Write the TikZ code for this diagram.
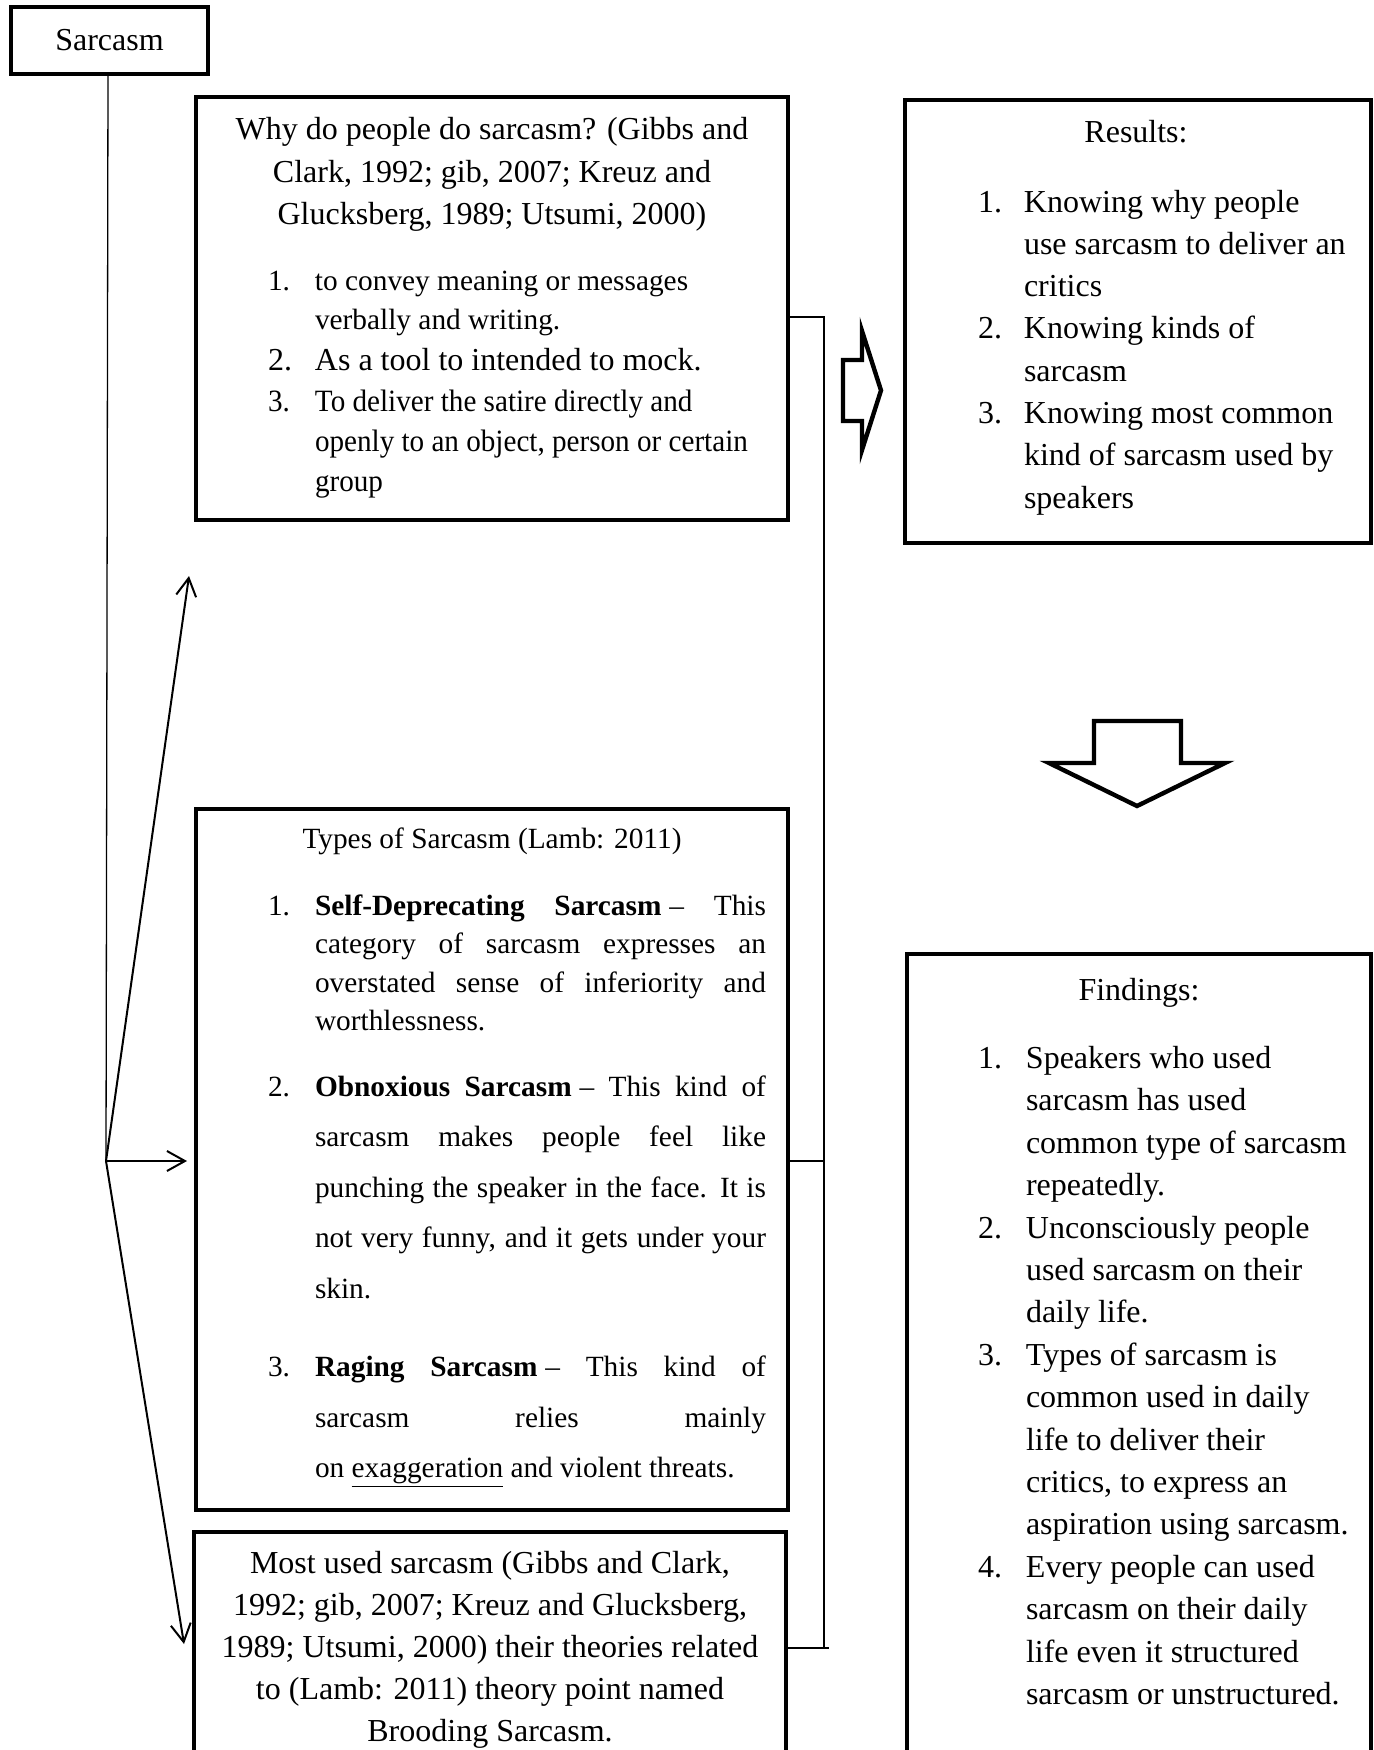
\documentclass[tikz,border=0pt]{standalone}
\usepackage{fontspec}
\setmainfont{Liberation Serif}
\newfontfamily\narrowserif[FakeStretch=0.94]{Liberation Serif}
\usetikzlibrary{arrows.meta}
\newcommand\fbig{\fontsize{16pt}{21pt}\selectfont}
\newcommand\fsml{\fontsize{14.67pt}{19pt}\selectfont}
\newcommand\fmid{\narrowserif\fontsize{15.5pt}{20pt}\selectfont}
\newcommand\txtlines[2]{\vtop{\baselineskip=#1\relax\lineskiplimit=-100pt\lineskip=0pt #2}}
\newcommand\Jline[2]{\hbox to #1{#2}}
\newcommand\Cline[2]{\hbox to #1{\hfil#2\hfil}}
\newcommand\Rline[1]{\hbox{#1}}
\newcommand\Lnum[2]{\llap{\hbox to #1{#2\hfil}}}
\newcommand\Dsh{\hspace{0.27em}–}
\begin{document}
\begin{tikzpicture}[x=0.5pt,y=-0.5pt,
  box/.style={draw, line width=2.3pt, inner sep=0pt, outer sep=0pt, anchor=north west},
  txt/.style={inner sep=0pt, outer sep=0pt},
  conn/.style={line width=0.7pt},
  fanarrow/.style={line width=1pt, ->},
  barrow/.style={draw, line width=2.2pt, line join=miter, fill=white},
  >={Straight Barb[length=9pt,width=10pt]}]
\clip (0,0) rectangle (1373,1750);
% boxes
\node[box, minimum width=98.5pt, minimum height=33.5pt] (sarc) at (11,7) {};
\node[txt, font=\fbig] (sarcT) at (sarc.center) {Sarcasm};
\node[box, minimum width=296pt, minimum height=211.5pt] (why) at (196,97) {};
\node[box, minimum width=233pt, minimum height=221.5pt] (res) at (905,100) {};
\node[box, minimum width=296pt, minimum height=350.5pt] (types) at (196,809) {};
\node[box, minimum width=296pt, minimum height=119pt] (most) at (194,1532) {};
\node[box, minimum width=232pt, minimum height=408pt] (find) at (907,954) {};
% why box text
\node[txt, font=\fbig, anchor=base] (whyT) at (492,139.5) {\txtlines{21.25pt}{%
 \Cline{290pt}{Why do people do sarcasm? (Gibbs and}%
 \Cline{290pt}{Clark, 1992; gib, 2007; Kreuz and}%
 \Cline{290pt}{Glucksberg, 1989; Utsumi, 2000)}}};
\node[txt, font=\fsml, anchor=base west] (why1) at (315,290) {\txtlines{19.5pt}{%
 \Rline{\Lnum{23.5pt}{1.}to convey meaning or messages}%
 \Rline{verbally and writing.}}};
\node[txt, font=\fbig, anchor=base west] (why2) at (315,370.6) {\txtlines{20pt}{%
 \Rline{\Lnum{23.5pt}{2.}As a tool to intended to mock.}}};
\node[txt, font=\fmid, anchor=base west] (why3) at (315,411) {\txtlines{20pt}{%
 \Rline{\Lnum{23.5pt}{3.}To deliver the satire directly and}%
 \Rline{openly to an object, person or certain}%
 \Rline{group}}};
% results text
\node[txt, font=\fbig, anchor=base] (resT) at (1136,142.8) {Results:};
\node[txt, font=\fbig, anchor=base west] (res1) at (1024,212) {\txtlines{21.15pt}{%
 \Rline{\Lnum{23pt}{1.}Knowing why people}%
 \Rline{use sarcasm to deliver an}%
 \Rline{critics}}};
\node[txt, font=\fbig, anchor=base west] (res2) at (1024,338.9) {\txtlines{21.15pt}{%
 \Rline{\Lnum{23pt}{2.}Knowing kinds of}%
 \Rline{sarcasm}}};
\node[txt, font=\fbig, anchor=base west] (res3) at (1024,423.5) {\txtlines{21.15pt}{%
 \Rline{\Lnum{23pt}{3.}Knowing most common}%
 \Rline{kind of sarcasm used by}%
 \Rline{speakers}}};
% types text
\node[txt, font=\fsml, anchor=base] (typesT) at (492,848.5) {Types of Sarcasm (Lamb: 2011)};
\node[txt, font=\fsml, anchor=base west] (typ1) at (315,915.4) {\txtlines{19.15pt}{%
 \Jline{225.5pt}{\Lnum{23.5pt}{1.}\textbf{Self-Deprecating Sarcasm}\Dsh{} This}%
 \Jline{225.5pt}{category of sarcasm expresses an}%
 \Jline{225.5pt}{overstated sense of inferiority and}%
 \Rline{worthlessness.}}};
\node[txt, font=\fsml, anchor=base west] (typ2) at (315,1096.3) {\txtlines{25.25pt}{%
 \Jline{225.5pt}{\Lnum{23.5pt}{2.}\textbf{Obnoxious Sarcasm}\Dsh{} This kind of}%
 \Jline{225.5pt}{sarcasm makes people feel like}%
 \Jline{225.5pt}{punching the speaker in the face. It is}%
 \Jline{225.5pt}{not very funny, and it gets under your}%
 \Rline{skin.}}};
\node[txt, font=\fsml, anchor=base west] (typ3) at (315,1376.5) {\txtlines{25.25pt}{%
 \Jline{225.5pt}{\Lnum{23.5pt}{3.}\textbf{Raging Sarcasm}\Dsh{} This kind of}%
 \Jline{225.5pt}{sarcasm relies mainly}%
 \Rline{on \underline{exaggeration} and violent threats.}}};
% most used text
\node[txt, font=\fbig, anchor=base] (mostT) at (490,1573) {\txtlines{21.1pt}{%
 \Cline{290pt}{Most used sarcasm (Gibbs and Clark,}%
 \Cline{290pt}{1992; gib, 2007; Kreuz and Glucksberg,}%
 \Cline{290pt}{1989; Utsumi, 2000) their theories related}%
 \Cline{290pt}{to (Lamb: 2011) theory point named}%
 \Cline{290pt}{Brooding Sarcasm.}}};
% findings text
\node[txt, font=\fbig, anchor=base] (findT) at (1139,1000) {Findings:};
\node[txt, font=\fbig, anchor=base west] (find1) at (1026,1068.3) {\txtlines{21.21pt}{%
 \Rline{\Lnum{24pt}{1.}Speakers who used}%
 \Rline{sarcasm has used}%
 \Rline{common type of sarcasm}%
 \Rline{repeatedly.}}};
\node[txt, font=\fbig, anchor=base west] (find2) at (1026,1238) {\txtlines{21.21pt}{%
 \Rline{\Lnum{24pt}{2.}Unconsciously people}%
 \Rline{used sarcasm on their}%
 \Rline{daily life.}}};
\node[txt, font=\fbig, anchor=base west] (find3) at (1026,1365.2) {\txtlines{21.21pt}{%
 \Rline{\Lnum{24pt}{3.}Types of sarcasm is}%
 \Rline{common used in daily}%
 \Rline{life to deliver their}%
 \Rline{critics, to express an}%
 \Rline{aspiration using sarcasm.}}};
\node[txt, font=\fbig, anchor=base west] (find4) at (1026,1577.3) {\txtlines{21.21pt}{%
 \Rline{\Lnum{24pt}{4.}Every people can used}%
 \Rline{sarcasm on their daily}%
 \Rline{life even it structured}%
 \Rline{sarcasm or unstructured.}}};
% block arrows
\draw[barrow] (843,360) -- (862,360) -- (862,331) -- (881,390.4) -- (862,450) -- (862,421) -- (843,421) -- cycle;
\draw[barrow] (1094,721) -- (1181,721) -- (1181,763) -- (1225,763) -- (1137,806) -- (1049,763) -- (1094,763) -- cycle;
% fan connectors
\coordinate (fan) at (106,1161);
\coordinate (a1) at (189,576);
\coordinate (a2) at (187,1161);
\coordinate (a3) at (184,1644);
\draw[line width=0.65pt] (sarc.south -| 108,0) -- (fan);
\draw[fanarrow] (fan) -- (a1);
\draw[fanarrow] (fan) -- (a2);
\draw[fanarrow] (fan) -- (a3);
% bracket connector
\coordinate (bt) at (824,317);
\coordinate (bm) at (824,1161);
\coordinate (bb) at (824,1648);
\coordinate (be) at (829,1648);
\draw[conn] (why.east |- bt) -- (bt) -- (bb);
\draw[conn] (types.east |- bm) -- (bm);
\draw[conn] (most.east |- bb) -- (be);
\end{tikzpicture}
\end{document}
